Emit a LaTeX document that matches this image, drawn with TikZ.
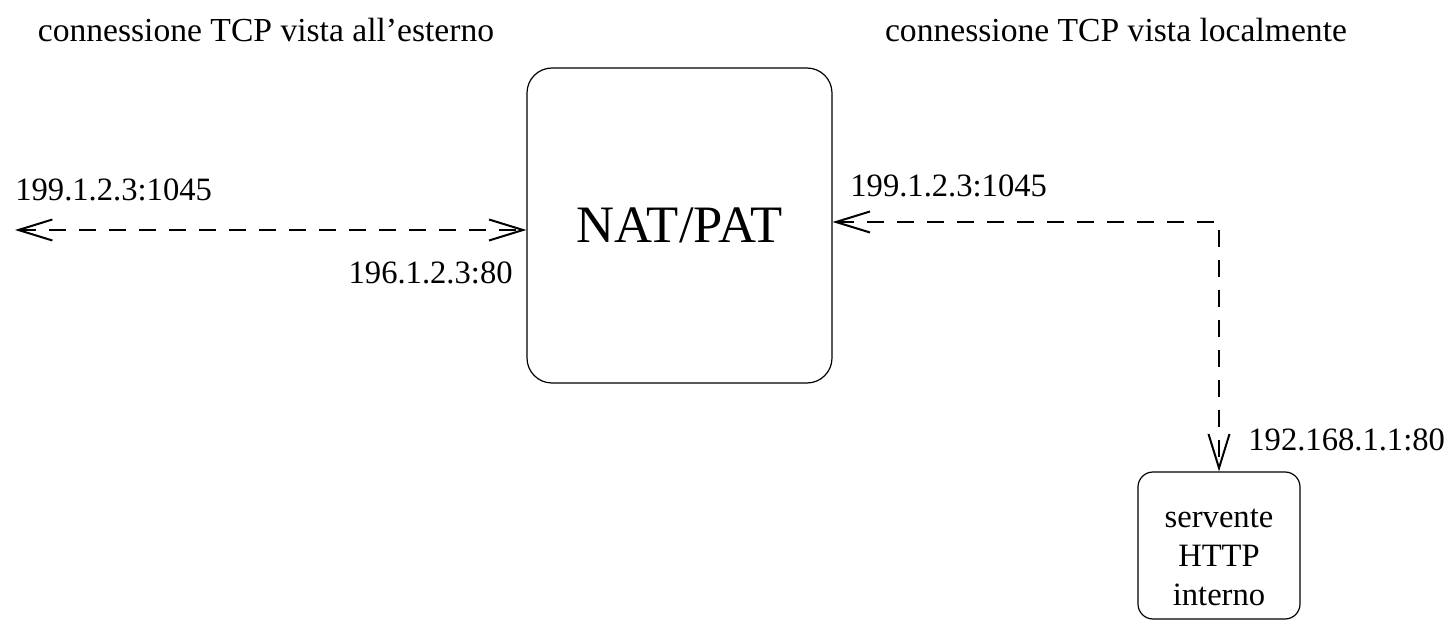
\documentclass[tikz,border=0pt]{standalone}
\usepackage{fontspec}
\setmainfont{Liberation Serif}
\usetikzlibrary{arrows.meta}
\begin{document}
\begin{tikzpicture}[x=0.5pt,y=-0.5pt,
  lbl/.style={inner sep=0pt,font=\fontsize{16.3}{19.5}\selectfont},
  ttl/.style={inner sep=0pt,font=\fontsize{16.8}{20}\selectfont},
  box/.style={draw,line width=0.6pt,rounded corners=12.5pt,inner sep=0pt},
  conn/.style={line width=1pt,dash pattern=on 8.5pt off 6.5pt,
    {Straight Barb[length=17pt,width=10.5pt,line width=1pt]}-{Straight Barb[length=17pt,width=10.5pt,line width=1pt]}}]
\useasboundingbox (0,0) rectangle (1447,620);
% titles
\node[ttl] (t1) at (266,30) {connessione TCP vista all’esterno};
\node[ttl] (t2) at (1116,30) {connessione TCP vista localmente};
% NAT box
\node[box,minimum width=152.5pt,minimum height=157.5pt,
  font=\fontsize{26.3}{30}\selectfont] (nat) at (679.5,225.5) {NAT/PAT};
% server box
\node[box,rounded corners=7.5pt,minimum width=81pt,minimum height=73.5pt] (srv) at (1219,545.5) {};
\node[lbl,anchor=base] (srv1) at (srv.center |- 0,527) {servente};
\node[lbl,anchor=base] (srv2) at (srv.center |- 0,566) {HTTP};
\node[lbl,anchor=base] (srv3) at (srv.center |- 0,605) {interno};
% connectors
\coordinate (L) at (15,230);
\draw[conn] (L) -- (nat.west |- L);
\draw[conn] (nat.east |- 0,222) -| (srv.north);
% labels
\node[lbl,anchor=base west] (a1) at (15,201) {199.1.2.3:1045};
\node[lbl,anchor=base east] (a2) at (513,284) {196.1.2.3:80};
\node[lbl,anchor=base west] (a3) at (850,197) {199.1.2.3:1045};
\node[lbl,anchor=base west] (a4) at (1248,451) {192.168.1.1:80};
\end{tikzpicture}
\end{document}
